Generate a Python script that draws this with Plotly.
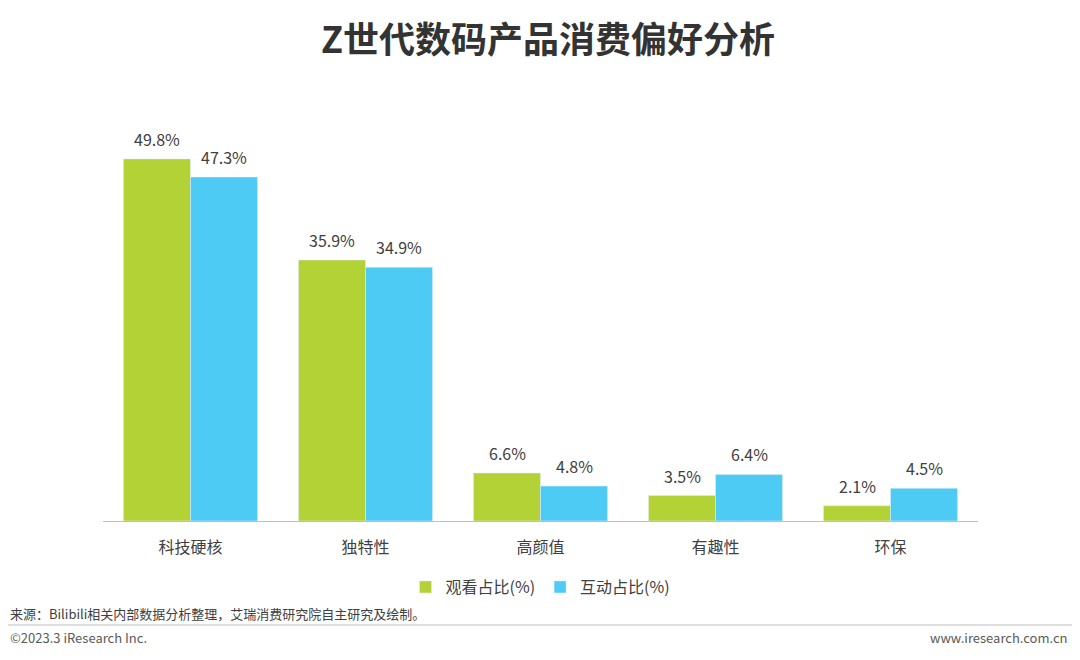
import plotly.graph_objects as go

categories = ["科技硬核", "独特性", "高颜值", "有趣性", "环保"]
watch = [49.8, 35.9, 6.6, 3.5, 2.1]
interact = [47.3, 34.9, 4.8, 6.4, 4.5]

font = "Noto Sans CJK SC"
fig = go.Figure()
fig.add_bar(x=categories, y=watch, name="观看占比(%)", marker_color="#b2d235")
fig.add_bar(x=categories, y=interact, name="互动占比(%)", marker_color="#4ecbf5")

for series, shift in ((watch, -33.5), (interact, 33.5)):
    for c, v in zip(categories, series):
        fig.add_annotation(x=c, y=v, text=f"{v}%", xshift=shift, yshift=20, showarrow=False,
                           yanchor="middle", font=dict(size=16, color="#404040"))

def px(x):
    return (x - 103) / 875

def py(y):
    return (521 - y) / 421

fig.update_layout(
    width=1080, height=660, plot_bgcolor="white", paper_bgcolor="white",
    font=dict(family=font, color="#404040"),
    margin=dict(l=95, r=110, t=92, b=147, autoexpand=False),
    barmode="group", bargap=0.234, bargroupgap=0,
    title=dict(text="<b>Z世代数码产品消费偏好分析</b>", x=0.5, xanchor="center",
               y=1-32/660, yanchor="middle", font=dict(size=36, color="#333333", family=font)),
    xaxis=dict(showline=True, linecolor="#bfbfbf", linewidth=1, ticks="",
               tickfont=dict(size=16, color="#404040"), ticklabelstandoff=12),
    yaxis=dict(visible=False, range=[0, 57.9]),
    legend=dict(orientation="h", x=0.5, xanchor="center", y=py(587), yanchor="middle",
                font=dict(size=16, color="#404040")),
    showlegend=True,
)
fig.add_annotation(text="来源：Bilibili相关内部数据分析整理，艾瑞消费研究院自主研究及绘制。",
                   xref="paper", yref="paper", x=px(8), y=py(613), xanchor="left",
                   yanchor="middle", showarrow=False, font=dict(size=13, color="#404040"))
fig.add_annotation(text="©2023.3 iResearch Inc.", xref="paper", yref="paper",
                   x=px(8), y=py(637), xanchor="left", yanchor="middle",
                   showarrow=False, font=dict(size=13, color="#595959"))
fig.add_annotation(text="www.iresearch.com.cn", xref="paper", yref="paper",
                   x=px(1070), y=py(637), xanchor="right", yanchor="middle",
                   showarrow=False, font=dict(size=13, color="#595959"))
fig.add_shape(type="line", xref="paper", yref="paper", x0=px(0), x1=px(1080),
              y0=py(625), y1=py(625), line=dict(color="#bfbfbf", width=1))
fig.write_html("out.html")
